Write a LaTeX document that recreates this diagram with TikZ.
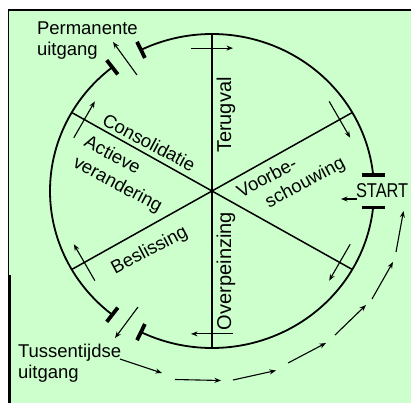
\documentclass[tikz,border=0pt]{standalone}
\usepackage{fontspec}
\usepackage{graphicx}
\setmainfont{Liberation Sans}
\usetikzlibrary{arrows.meta}
\definecolor{bg}{RGB}{204,255,204}
\begin{document}
\begin{tikzpicture}[x=1pt,y=-1pt,
  rim/.style={line width=1.8pt},
  spoke/.style={line width=1.5pt},
  bar/.style={line width=3.8pt},
  flow/.style={line width=1.1pt,-{Stealth[length=6.5pt,width=5pt]}},
  lbl/.style={inner sep=0pt,outer sep=0pt,font=\fontsize{18.5}{21}\selectfont},
  vlbl/.style={inner sep=0pt,outer sep=0pt,font=\fontsize{20}{22}\selectfont}]
\useasboundingbox (0,0) rectangle (411,403);
\fill[white] (0,0) rectangle (411,403);
\fill[bg] (8,10) rectangle (411,403);
\draw[line width=2pt] (8,10) -- (411,10);
\draw[line width=1.5pt] (8.5,10) -- (8.5,276);
\draw[line width=3pt] (9.5,275) -- (9.5,403);
% centre and spoke points
\coordinate (c) at (212,191);
\foreach \a in {30,90,...,330} {
  \coordinate (s\a) at ({212+162*cos(\a)},{191-157*sin(\a)});
  \coordinate (ta\a) at ({212+0.91*162*cos(\a)-21*sin(\a)},{191-0.91*157*sin(\a)-21*cos(\a)});
  \coordinate (tb\a) at ({212+0.91*162*cos(\a)+21*sin(\a)},{191-0.91*157*sin(\a)+21*cos(\a)});
}
% spokes
\foreach \a in {30,90,...,330} \draw[spoke] (c) -- (s\a);
% rim arcs
\draw[rim] plot[domain=6:116,samples=90,smooth] ({212+162*cos(\x)},{191-157*sin(\x)});
\draw[rim] plot[domain=128:232,samples=90,smooth] ({212+162*cos(\x)},{191-157*sin(\x)});
\draw[rim] plot[domain=244:354,samples=90,smooth] ({212+162*cos(\x)},{191-157*sin(\x)});
% end bars
\foreach \a in {116,128,232,244}
  \draw[bar] ({212+171*cos(\a)},{191-166*sin(\a)}) -- ({212+153*cos(\a)},{191-148*sin(\a)});
\draw[bar] (362,174.6) -- (385,174.6);
\draw[bar] (362,207.4) -- (385,207.4);
% clockwise arrows across spokes
\foreach \a in {30,90,...,330} \draw[flow] (ta\a) -- (tb\a);
% exit arrows
\coordinate (pin) at (137,75);  \coordinate (pout) at (113,42);
\coordinate (tin) at (138,307); \coordinate (tout) at (115,338);
\coordinate (sin) at (357,199); \coordinate (sout) at (341,199);
\draw[flow] (pin) -- (pout);
\draw[flow] (tin) -- (tout);
\draw[flow] (sin) -- (sout);
% outer return path
\coordinate (o1) at (120,359); \coordinate (o2) at (162,373);
\coordinate (o3) at (175,379.5); \coordinate (o4) at (221,380.5);
\coordinate (o5) at (233,380); \coordinate (o6) at (276,370.5);
\coordinate (o7) at (288,363); \coordinate (o8) at (326,343);
\coordinate (o9) at (335,335); \coordinate (o10) at (366,305);
\coordinate (o11) at (372,299); \coordinate (o12) at (393,262);
\coordinate (o13) at (396,252); \coordinate (o14) at (403.5,211);
\draw[flow] (o1) -- (o2);
\draw[flow] (o3) -- (o4);
\draw[flow] (o5) -- (o6);
\draw[flow] (o7) -- (o8);
\draw[flow] (o9) -- (o10);
\draw[flow] (o11) -- (o12);
\draw[flow] (o13) -- (o14);
% labels
\node[lbl,anchor=base west] (perm1) at (37,35) {Permanente};
\node[lbl,anchor=base west] (perm2) at (37,56) {uitgang};
\node[lbl,anchor=base west] (tus1) at (18,357) {Tussentijdse};
\node[lbl,anchor=base west] (tus2) at (18,378) {uitgang};
\node[lbl,anchor=base west] (start) at (356,197) {\fontsize{20}{22}\selectfont\scalebox{0.82}[1]{START}};
\node[lbl,anchor=base,rotate=-28] (cons) at (146,148) {Consolidatie};
\node[lbl,anchor=base west,rotate=-28] (act1) at (83,146) {Actieve};
\node[lbl,anchor=base west,rotate=-28] (act2) at (72,166.5) {verandering};
\node[lbl,anchor=base,rotate=28] (besl) at (152,255) {Beslissing};
\node[lbl,anchor=base west,rotate=28] (voor1) at (241,198) {Voorbe-};
\node[lbl,anchor=base west,rotate=28] (voor2) at (269,208) {schouwing};
\node[vlbl,anchor=base west,rotate=90] (teru) at (231,153) {Terugval};
\node[vlbl,anchor=base west,rotate=90] (over) at (231,330) {Overpeinzing};
\end{tikzpicture}
\end{document}
